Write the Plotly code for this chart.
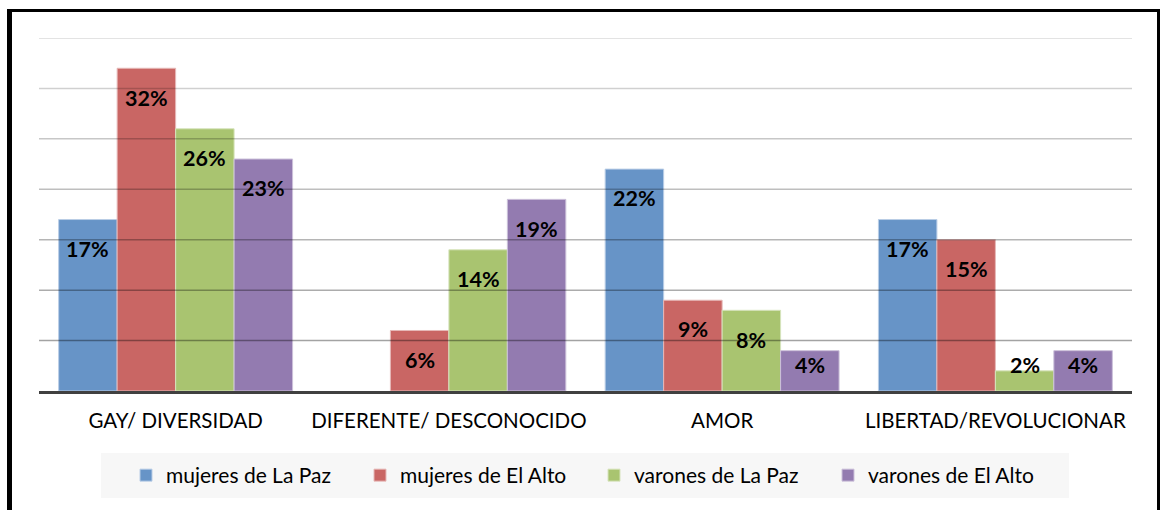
import plotly.graph_objects as go

categories = ["GAY/ DIVERSIDAD", "DIFERENTE/ DESCONOCIDO", "AMOR", "LIBERTAD/REVOLUCIONAR"]
series_names = ["mujeres de La Paz", "mujeres de El Alto", "varones de La Paz", "varones de El Alto"]
mujeres_la_paz = [17, None, 22, 17]
mujeres_el_alto = [32, 6, 9, 15]
varones_la_paz = [26, 14, 8, 2]
varones_el_alto = [23, 19, 4, 4]
series_values = [mujeres_la_paz, mujeres_el_alto, varones_la_paz, varones_el_alto]
y_ticks = [5, 10, 15, 20, 25, 30, 35]

colors = ["#6794c7", "#c96664", "#a9c470", "#937bb0"]
edge_colors = ["#b9cde6", "#e6b9b8", "#d7e4bd", "#ccc1da"]

W, H = 1161, 510
L, R, T, B = 39, 29, 38, 119
BARGAP = 0.144
FONT = "Lato, Open Sans, sans-serif"

fig = go.Figure()
for name, vals, c, ec in zip(series_names, series_values, colors, edge_colors):
    fig.add_trace(go.Bar(
        x=categories, y=vals, name=name,
        marker=dict(color=c, line=dict(color=ec, width=1)),
        hoverinfo="skip",
    ))

# data labels (inside end, Excel-like)
n = len(series_names)
bw = (1 - BARGAP) / n
for j, vals in enumerate(series_values):
    for i, v in enumerate(vals):
        if v is None:
            continue
        fig.add_annotation(
            x=i + (j - (n - 1) / 2) * bw, y=max(v - 2.9, 2.6),
            text=f"<b>{v}%</b>", showarrow=False, xref="x", yref="y",
            font=dict(family=FONT, size=21.5, color="#000000"),
            yanchor="middle", xanchor="center",
        )

# gridlines drawn above bars (semi transparent, darker towards the bottom)
for k, t in enumerate(y_ticks):
    alpha = 0.36 - 0.035 * k
    fig.add_shape(type="line", xref="paper", yref="y", x0=0, x1=1, y0=t, y1=t,
                  line=dict(color=f"rgba(0,0,0,{alpha:.3f})", width=1.5), layer="above")

pw = W - L - R
ph = H - T - B
def px_x(px):
    return (px - L) / pw
def px_y(py):
    return (H - B - py) / ph

# legend background box
fig.add_shape(type="rect", xref="paper", yref="paper", x0=px_x(101), x1=px_x(1069),
              y0=px_y(498), y1=px_y(453), fillcolor="#f7f7f7", line=dict(width=0),
              layer="below")

# outer frame (black) - left, top, right
fig.add_shape(type="line", xref="paper", yref="paper", x0=px_x(9.5), x1=px_x(9.5),
              y0=px_y(9), y1=px_y(520), line=dict(color="#000000", width=5))
fig.add_shape(type="line", xref="paper", yref="paper", x0=px_x(7), x1=px_x(1160),
              y0=px_y(10.5), y1=px_y(10.5), line=dict(color="#000000", width=3))
fig.add_shape(type="line", xref="paper", yref="paper", x0=px_x(1158.5), x1=px_x(1158.5),
              y0=px_y(9), y1=px_y(520), line=dict(color="#000000", width=3))

fig.update_layout(
    width=W, height=H,
    margin=dict(l=L, r=R, t=T, b=B),
    paper_bgcolor="#ffffff", plot_bgcolor="#ffffff",
    barmode="group", bargap=BARGAP, bargroupgap=0,
    font=dict(family=FONT, size=20.5, color="#000000"),
    showlegend=True,
    legend=dict(
        orientation="h", x=px_x(126), y=px_y(455), xanchor="left", yanchor="top",
        bgcolor="rgba(0,0,0,0)", font=dict(size=21, color="#000000"),
        entrywidth=189, entrywidthmode="pixels", traceorder="normal",
    ),
    xaxis=dict(
        showgrid=False, showline=True, linecolor="#404040", linewidth=3,
        ticks="", tickfont=dict(size=20.5, color="#000000"), ticklabelstandoff=9,
        fixedrange=True,
    ),
    yaxis=dict(range=[0, 35], showgrid=False, showticklabels=False, zeroline=False,
               showline=False, fixedrange=True),
)

fig.write_html("out.html", config={"displayModeBar": False},
               post_script="document.body.style.margin='0px';document.body.style.padding='0px';")
